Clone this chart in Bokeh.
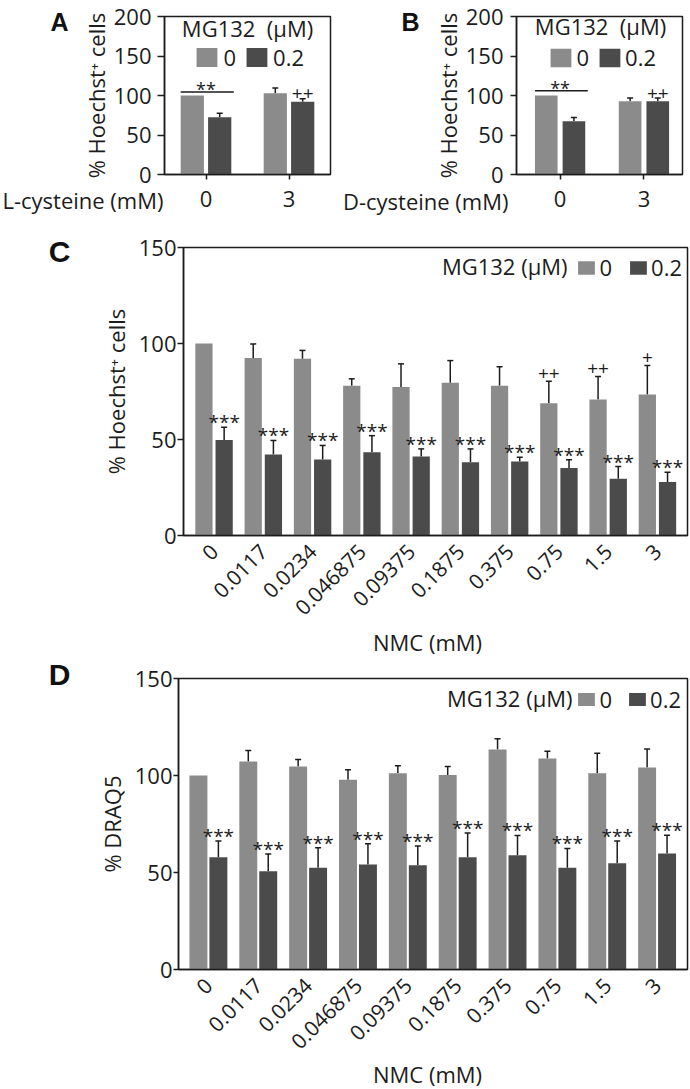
import math
import numpy as np
from bokeh.plotting import figure
from bokeh.models import (ColumnDataSource, Whisker, TeeHead, Label, Legend,
                          LegendItem, FixedTicker, Range1d)
from bokeh.layouts import column, row
from bokeh.embed import file_html
from bokeh.resources import INLINE
from bokeh.core.properties import value

FONT = "Open Sans"
LETTER_FONT = "Liberation Sans"
LIGHT = "#8b8b8b"
DARK = "#4b4b4b"
INK = "#1c1c1c"

# ---------------- data ----------------
# Panel A : L-cysteine
A_cats = ["0", "3"]
A_ctrl = [100, 103]
A_ctrl_err = [0, 6.5]
A_mg = [72.4, 92]
A_mg_err = [5, 4]
A_ctrl_sig = ["", ""]
A_mg_sig = ["", "++"]
A_bracket = 104.3
A_bracket_text = "**"

# Panel B : D-cysteine
B_cats = ["0", "3"]
B_ctrl = [100, 92.8]
B_ctrl_err = [0, 4]
B_mg = [67.5, 92.8]
B_mg_err = [4.5, 4]
B_ctrl_sig = ["", ""]
B_mg_sig = ["", "++"]
B_bracket = 106
B_bracket_text = "**"

# Panels C and D : NMC
NMC = ["0", "0.0117", "0.0234", "0.046875", "0.09375", "0.1875", "0.375",
       "0.75", "1.5", "3"]
C_ctrl = [100, 92.5, 92, 78, 77.3, 79.5, 78, 68.9, 70.8, 73.4]
C_ctrl_err = [0, 7.3, 4.4, 3.6, 12.1, 11.6, 9.9, 11.5, 12, 15.1]
C_mg = [49.8, 42.2, 39.6, 43.4, 41.1, 38.2, 38.5, 35.2, 29.5, 27.8]
C_mg_err = [6.6, 7.3, 7.3, 8.6, 4, 6.9, 2.3, 4.2, 6.4, 5.2]
C_ctrl_sig = ["", "", "", "", "", "", "", "++", "++", "+"]
C_mg_sig = ["***"] * 10

D_ctrl = [100, 107.2, 104.6, 97.8, 101.2, 100.3, 113.4, 108.8, 101.2, 104.1]
D_ctrl_err = [0, 5.7, 3.6, 5.1, 3.8, 4.3, 5.5, 3.7, 10.3, 9.5]
D_mg = [57.9, 50.7, 52.4, 54.1, 53.8, 57.9, 58.9, 52.4, 54.8, 59.8]
D_mg_err = [8.3, 8.9, 10.3, 10.7, 9.9, 12.4, 10.2, 10, 11.4, 9.4]
D_ctrl_sig = [""] * 10
D_mg_sig = ["***"] * 10

LEGEND_LABELS = ["0", "0.2"]
LEGEND_TITLE = "MG132 (\u03bcM)"
LEGEND_TITLE_AB = "MG132\u00a0\u00a0(\u03bcM)"
Y_HOECHST = "% Hoechst\u207a cells"
Y_DRAQ5 = "% DRAQ5"
X_A = "L-cysteine (mM)"
X_B = "D-cysteine (mM)"
X_CD = "NMC (mM)"
PANEL_LETTERS = ["A", "B", "C", "D"]

W_PAGE, H_PAGE = 690, 1089


# ---------------- helpers ----------------
def to_data(g, px, py):
    fx0 = g["ox"] + g["L"]
    fx1 = g["ox"] + g["W"] - g["R"]
    fy0 = g["oy"] + g["T"]
    fy1 = g["oy"] + g["H"] - g["B"]
    xr0, xr1 = g["xr"]
    yr0, yr1 = g["yr"]
    x = xr0 + (px - fx0) * (xr1 - xr0) / (fx1 - fx0)
    y = yr0 + (fy1 - py) * (yr1 - yr0) / (fy1 - fy0)
    return x, y


def frame_label(p, g, px, py, text, size, align="center"):
    x, y = to_data(g, px, py)
    p.add_layout(Label(x=x, y=y, text=text, text_font=FONT,
                       text_font_size=f"{size}px", text_align=align,
                       text_baseline="middle", text_color=INK))


def panel(g, cats, ctrl, ctrl_err, mg, mg_err, ctrl_sig, mg_sig, yticks,
          ylabel, off, bw, rot, sig_size, lg, ax):
    p = figure(width=g["W"], height=g["H"], min_border_left=g["L"],
               min_border_right=g["R"], min_border_top=g["T"],
               min_border_bottom=g["B"], x_range=Range1d(*g["xr"]),
               y_range=Range1d(*g["yr"]), output_backend="svg",
               toolbar_location=None, tools="")
    idx = np.arange(len(cats))
    ctrl_a = np.array(ctrl, dtype=float)
    mg_a = np.array(mg, dtype=float)
    ce = np.array(ctrl_err, dtype=float)
    me = np.array(mg_err, dtype=float)
    src = ColumnDataSource(dict(xc=idx - off, xm=idx + off, ctrl=ctrl_a,
                                mg=mg_a, ctrl_up=ctrl_a + ce, mg_up=mg_a + me,
                                ctrl_sig=ctrl_sig, mg_sig=mg_sig))
    rc = p.vbar(x="xc", top="ctrl", width=bw, source=src, fill_color=LIGHT,
                line_color=None)
    rm = p.vbar(x="xm", top="mg", width=bw, source=src, fill_color=DARK,
                line_color=None)
    for xs, base, err in ((idx - off, ctrl_a, ce), (idx + off, mg_a, me)):
        keep = err > 0
        ws = ColumnDataSource(dict(x=xs[keep], lo=base[keep],
                                   hi=(base + err)[keep]))
        p.add_layout(Whisker(source=ws, base="x", lower="lo", upper="hi",
                             dimension="height", line_color=INK,
                             line_width=1.5, lower_head=None,
                             upper_head=TeeHead(size=6, line_color=INK,
                                                line_width=1.5)))
    # significance marks
    p.text(x="xm", y="mg_up", text="mg_sig", source=src,
           text_font=value(FONT), text_font_size=f"{sig_size}px",
           text_align="center", text_baseline="alphabetic", y_offset=-5,
           text_color=INK)
    p.text(x="xc", y="ctrl_up", text="ctrl_sig", source=src,
           text_font=value(FONT), text_font_size="19px",
           text_align="center", text_baseline="alphabetic", y_offset=-8,
           text_color=INK)

    # axes
    p.xgrid.visible = False
    p.ygrid.visible = False
    p.outline_line_color = INK
    p.outline_line_width = 1.5
    p.outline_line_alpha = 1
    p.background_fill_color = "white"
    p.border_fill_color = "white"
    for a in (p.xaxis[0], p.yaxis[0]):
        a.axis_line_color = INK
        a.axis_line_width = 1.5
        a.major_tick_line_color = INK
        a.major_tick_line_width = 1.5
        a.minor_tick_line_color = None
        a.major_tick_in = 0
        a.major_label_text_font = FONT
        a.major_label_text_color = INK
    p.yaxis.ticker = FixedTicker(ticks=yticks)
    p.yaxis.major_tick_out = ax["ytick"]
    p.yaxis.major_label_standoff = ax["ystand"]
    p.yaxis.major_label_text_font_size = "22px"
    p.yaxis.axis_label = ylabel
    p.yaxis.axis_label_text_font = FONT
    p.yaxis.axis_label_text_font_size = "22px"
    p.yaxis.axis_label_text_font_style = "normal"
    p.yaxis.axis_label_text_color = INK
    p.yaxis.axis_label_standoff = ax["lstand"]
    p.xaxis.ticker = FixedTicker(ticks=[int(i) for i in idx])
    p.xaxis.major_label_overrides = {int(i): c for i, c in enumerate(cats)}
    p.xaxis.major_tick_out = ax["xtick"]
    if ax["xtick"] == 0:
        p.xaxis.major_tick_line_color = None
    p.xaxis.major_label_standoff = ax["xstand"]
    if rot:
        p.xaxis.major_label_orientation = math.pi / 4
        p.xaxis.major_label_text_font_size = "21px"
    else:
        p.xaxis.major_label_text_font_size = "22px"

    legend = Legend(items=[LegendItem(label=LEGEND_LABELS[0], renderers=[rc]),
                           LegendItem(label=LEGEND_LABELS[1], renderers=[rm])],
                    orientation="horizontal", location="top_right",
                    margin=lg["margin"], padding=0, spacing=lg["spacing"],
                    glyph_width=lg["gw"], glyph_height=lg["gh"],
                    label_standoff=lg["standoff"], label_width=1,
                    label_text_font=FONT, label_text_font_size="22px",
                    label_text_color=INK, border_line_alpha=0,
                    background_fill_alpha=0)
    p.add_layout(legend)
    return p


def add_bracket(p, pos, off, bw, yv, text):
    x0 = pos - off - bw / 2
    x1 = pos + off + bw / 2 + 0.03
    p.segment(x0=[x0], x1=[x1], y0=[yv], y1=[yv], line_color=INK,
              line_width=1.5)
    p.text(x=[pos], y=[yv], text=[text], text_font=value(FONT),
           text_font_size="18px", text_align="center",
           text_baseline="alphabetic", y_offset=-3, text_color=INK)


# ---------------- geometry (page px) ----------------
gA = dict(ox=0, oy=0, W=345, H=216, L=164, R=15, T=16, B=42,
          xr=(-0.5, 1.5), yr=(0, 200))
gB = dict(ox=345, oy=0, W=345, H=216, L=171, R=8, T=16, B=39,
          xr=(-0.52, 1.46), yr=(0, 200))
gC = dict(ox=0, oy=216, W=690, H=436, L=183, R=3, T=31, B=117,
          xr=(-0.62, 9.61), yr=(0, 150))
gD = dict(ox=0, oy=652, W=690, H=437, L=178, R=3, T=26, B=120,
          xr=(-0.6, 9.61), yr=(0, 150))

lgA = dict(margin=26, spacing=7, gw=26, gh=24, standoff=4)
lgB = dict(margin=26, spacing=7, gw=26, gh=23, standoff=3)
lgC = dict(margin=5, spacing=15, gw=21, gh=17, standoff=3)
lgD = dict(margin=6, spacing=14, gw=21, gh=16, standoff=3)

axA = dict(ytick=7, ystand=6, lstand=0, xtick=5, xstand=11)
axB = dict(ytick=6, ystand=7, lstand=0, xtick=5, xstand=11)
axC = dict(ytick=6, ystand=1, lstand=5, xtick=0, xstand=12)
axD = dict(ytick=5, ystand=1, lstand=5, xtick=0, xstand=12)

pA = panel(gA, A_cats, A_ctrl, A_ctrl_err, A_mg, A_mg_err, A_ctrl_sig,
           A_mg_sig, [0, 50, 100, 150, 200], Y_HOECHST, 0.165, 0.28, False,
           19, lgA, axA)
add_bracket(pA, 0, 0.165, 0.28, A_bracket, A_bracket_text)
frame_label(pA, gA, 247, 27, LEGEND_TITLE_AB, 22)

pB = panel(gB, B_cats, B_ctrl, B_ctrl_err, B_mg, B_mg_err, B_ctrl_sig,
           B_mg_sig, [0, 50, 100, 150, 200], Y_HOECHST, 0.165, 0.27, False,
           19, lgB, axB)
add_bracket(pB, 0, 0.165, 0.27, B_bracket, B_bracket_text)
frame_label(pB, gB, 600, 26, LEGEND_TITLE_AB, 22)

pC = panel(gC, NMC, C_ctrl, C_ctrl_err, C_mg, C_mg_err, C_ctrl_sig, C_mg_sig,
           [0, 50, 100, 150], Y_HOECHST, 0.205, 0.35, True, 19, lgC, axC)
frame_label(pC, gC, 567, 265, LEGEND_TITLE, 22, align="right")

pD = panel(gD, NMC, D_ctrl, D_ctrl_err, D_mg, D_mg_err, D_ctrl_sig, D_mg_sig,
           [0, 50, 100, 150], Y_DRAQ5, 0.2, 0.36, True, 19, lgD, axD)
frame_label(pD, gD, 572, 697, LEGEND_TITLE, 22, align="right")

for p in (pA, pB, pC, pD):
    p.border_fill_alpha = 0

# ---------------- overlay for texts outside the plot frames ----------------
ov = figure(width=W_PAGE, height=H_PAGE, x_range=Range1d(0, W_PAGE),
            y_range=Range1d(H_PAGE, 0), min_border=0, min_border_left=0,
            min_border_right=0, min_border_top=0, min_border_bottom=0,
            output_backend="svg", toolbar_location=None, tools="",
            x_axis_location=None, y_axis_location=None)
ov.xgrid.visible = False
ov.ygrid.visible = False
ov.outline_line_color = None
ov.background_fill_alpha = 0
ov.border_fill_alpha = 0

txt = ColumnDataSource(dict(
    x=[163, 508, 427, 427],
    y=[199, 200, 641, 1073],
    t=[X_A, X_B, X_CD, X_CD],
    a=["right", "right", "center", "center"]))
ov.text(x="x", y="y", text="t", text_align="a", source=txt,
        text_font=value(FONT), text_font_size="22px",
        text_baseline="middle", text_color=INK)
letters = ColumnDataSource(dict(
    x=[59, 410, 59, 59], y=[21, 21, 251, 674], t=PANEL_LETTERS,
    s=["25px", "25px", "30px", "30px"]))
ov.text(x="x", y="y", text="t", source=letters, text_font_size="s",
        text_font=value(LETTER_FONT), text_font_style="bold",
        text_align="center", text_baseline="middle", text_color="#111111")

layout = column(row(pA, pB), row(pC), row(pD),
                row(ov, styles={"margin-top": f"-{H_PAGE}px"}))

with open("out.html", "w") as f:
    f.write(file_html(layout, INLINE, title="MG132 NMC"))
